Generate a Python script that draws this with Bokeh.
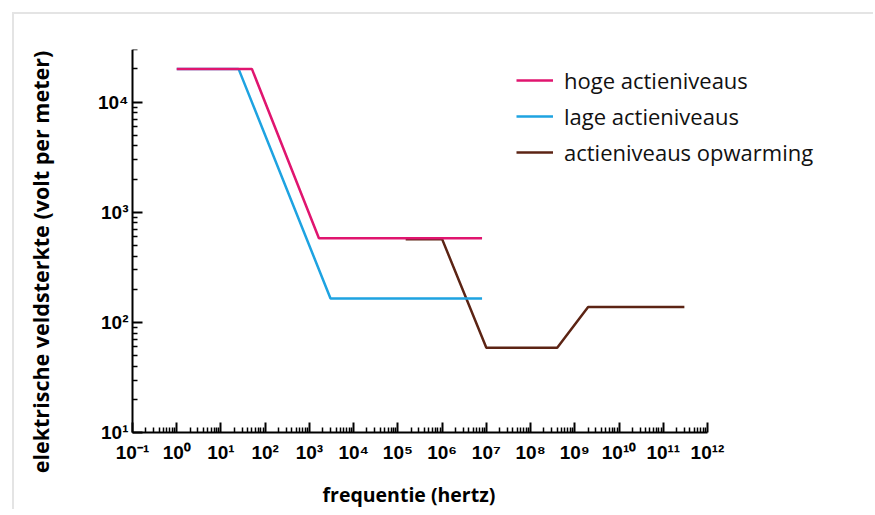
import math
from bokeh.plotting import figure
from bokeh.models import FixedTicker, Legend, LegendItem, Title, Label
from bokeh.embed import file_html
from bokeh.resources import INLINE

# ---- data ----
hoge_freq = [1, 50, 1640, 8e6]
hoge_field = [2e4, 2e4, 580, 580]

lage_freq = [1, 25, 3000, 8e6]
lage_field = [2e4, 2e4, 165, 165]

opw_freq = [1.5e5, 1e6, 1e7, 4e8, 2e9, 3e11]
opw_field = [570, 570, 59, 59, 138, 138]

series_names = ["hoge actieniveaus", "lage actieniveaus", "actieniveaus opwarming"]
series_colors = ["#e0156f", "#1ea3e1", "#5c2414"]

x_exponents = list(range(-1, 13))
y_exponents = [1, 2, 3, 4]
sup = str.maketrans("-0123456789", "⁻⁰¹²³⁴⁵⁶⁷⁸⁹")
x_tick_labels = ["10" + str(e).translate(sup) for e in x_exponents]
y_tick_labels = ["10" + str(e).translate(sup) for e in y_exponents]

x_label = "frequentie (hertz)"
y_label = "elektrische veldsterkte (volt per meter)"

# ---- layout numbers ----
W, H = 861, 497
left_b, top_b, right_b = 4, 35, 8
x_axis_px = 575                      # pixels used by the 13 decades of the x axis
y_axis_px = 384                      # pixels from 10 to 3e4 on the y axis
left_px = 114                        # room inside the frame left of the y axis (labels, title)
below_px = 42                        # room inside the frame under the x axis (tick labels)
ytitle_dx, ytitle_dy = 92, 171       # y title centre: px left of the y axis, px above the x axis
frame_w = W - left_b - right_b
frame_h = y_axis_px + below_px
bottom_b = H - top_b - frame_h
x_lo, x_hi = 0.1, 1e12
y_lo, y_hi = 10, 3e4
x_dec = 13 / x_axis_px
y_dec = math.log10(y_hi / y_lo) / y_axis_px
x_view_start = 10 ** (-1 - left_px * x_dec)
x_view_end = 10 ** (-1 + (frame_w - left_px) * x_dec)
y_view_start = 10 ** (1 - below_px * y_dec)

p = figure(width=W, height=H, x_axis_type="log", y_axis_type="log",
           x_range=(x_view_start, x_view_end), y_range=(y_view_start, y_hi),
           output_backend="svg", toolbar_location=None,
           min_border_left=left_b, min_border_top=top_b,
           min_border_right=right_b, min_border_bottom=bottom_b,
           margin=(12, 0, 0, 12),
           styles={"border-top": "2px solid #e4e4e4", "border-left": "2px solid #e4e4e4"})
p.xgrid.visible = False
p.ygrid.visible = False
p.outline_line_color = None
p.background_fill_color = "white"
p.border_fill_color = "white"

x_major = [10.0 ** e for e in x_exponents]
x_minor = [m * 10.0 ** e for e in x_exponents[:-1] for m in range(2, 10)]
y_major = [10.0 ** e for e in y_exponents]
y_minor = [m * 10.0 ** e for e in y_exponents[:-1] for m in range(2, 10)] + [2e4, 3e4]

p.xaxis.ticker = FixedTicker(ticks=x_major, minor_ticks=x_minor)
p.yaxis.ticker = FixedTicker(ticks=y_major, minor_ticks=y_minor)
p.xaxis.bounds = (x_lo, x_hi)
p.yaxis.bounds = (y_lo, y_hi)
p.xaxis.fixed_location = y_lo
p.yaxis.fixed_location = x_lo
p.xaxis.major_label_overrides = {v: l for v, l in zip(x_major, x_tick_labels)}
p.yaxis.major_label_overrides = {v: l for v, l in zip(y_major, y_tick_labels)}

for ax in (p.xaxis, p.yaxis):
    ax.axis_line_width = 2
    ax.axis_line_color = "black"
    ax.major_tick_in = 10
    ax.major_tick_out = 0
    ax.minor_tick_in = 5
    ax.minor_tick_out = 0
    ax.major_tick_line_width = 2
    ax.minor_tick_line_width = 1.5
    ax.major_tick_line_color = "black"
    ax.minor_tick_line_color = "black"
    ax.major_label_text_font = "Liberation Sans"
    ax.major_label_text_font_style = "bold"
    ax.major_label_text_color = "black"
    ax.major_label_text_font_size = "19px"

p.xaxis.major_label_standoff = 9
p.yaxis.major_label_standoff = 4

ytitle = Label(x=10 ** (-1 - ytitle_dx * x_dec), y=10 ** (1 + ytitle_dy * y_dec),
               text=y_label, angle=math.pi / 2,
               text_align="center", text_baseline="middle",
               text_font="Open Sans", text_font_style="bold",
               text_font_size="21.5px", text_color="black")
p.add_layout(ytitle)

xtitle = Title(text=x_label, align="left", offset=190 + left_px, standoff=8,
               text_font="Open Sans", text_font_style="bold",
               text_font_size="19.5px", text_color="black")
p.add_layout(xtitle, "below")

r_opw = p.line(opw_freq, opw_field, line_color=series_colors[2], line_width=2.5)
r_lage = p.line(lage_freq, lage_field, line_color=series_colors[1], line_width=2.5)
r_hoge = p.line(hoge_freq, hoge_field, line_color=series_colors[0], line_width=2.5)

legend = Legend(items=[LegendItem(label=series_names[0], renderers=[r_hoge]),
                       LegendItem(label=series_names[1], renderers=[r_lage]),
                       LegendItem(label=series_names[2], renderers=[r_opw])],
                location=(384 + left_px, 265 + below_px), orientation="vertical",
                border_line_color=None, background_fill_alpha=0,
                padding=0, margin=0, spacing=6,
                glyph_width=37, glyph_height=24, label_height=24,
                label_standoff=11,
                label_text_font="Open Sans", label_text_font_size="22px",
                label_text_color="#111111")
p.add_layout(legend, "center")

open("out.html", "w").write(file_html(p, INLINE))
